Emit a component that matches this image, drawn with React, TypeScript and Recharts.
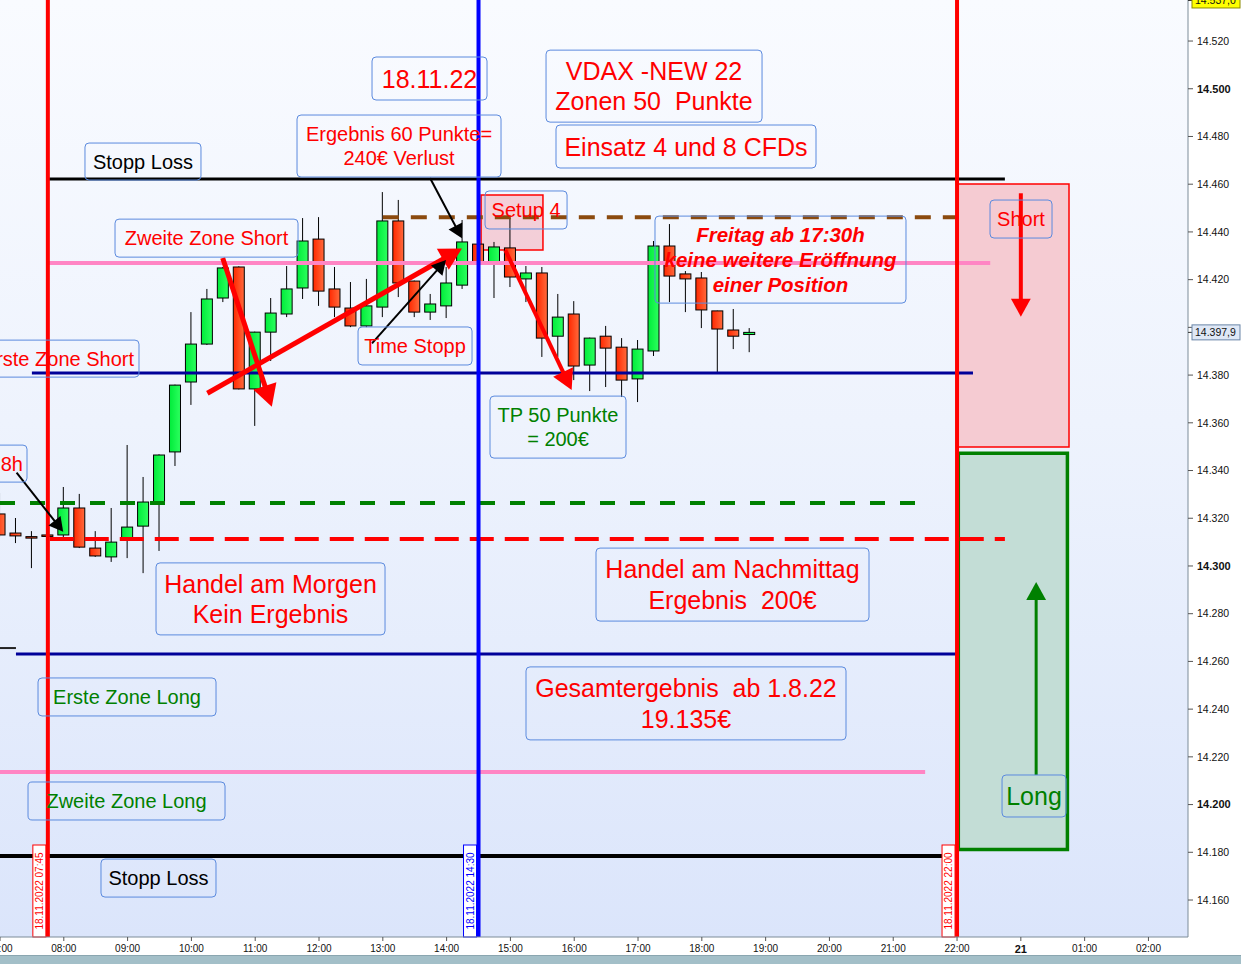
import React from "react";
import {
  ComposedChart,
  Bar,
  XAxis,
  YAxis,
  ReferenceLine,
  ReferenceArea,
  ReferenceDot,
} from "recharts";

// 15 minute candles, 18.11.2022
const times = [
  "07:00", "07:15", "07:30", "07:45", "08:00", "08:15", "08:30", "08:45",
  "09:00", "09:15", "09:30", "09:45", "10:00", "10:15", "10:30", "10:45",
  "11:00", "11:15", "11:30", "11:45", "12:00", "12:15", "12:30", "12:45",
  "13:00", "13:15", "13:30", "13:45", "14:00", "14:15", "14:30", "14:45",
  "15:00", "15:15", "15:30", "15:45", "16:00", "16:15", "16:30", "16:45",
  "17:00", "17:15", "17:30", "17:45", "18:00", "18:15", "18:30", "18:45",
];
const opens = [
  14321.8, 14313.8, 14312.3, 14313.0, 14313.0, 14324.3, 14307.5, 14303.8,
  14311.7, 14316.7, 14326.8, 14347.8, 14377.1, 14393.0, 14412.3, 14425.3,
  14374.2, 14398.0, 14405.6, 14416.5, 14437.0, 14416.1, 14408.1, 14400.6,
  14408.5, 14444.6, 14419.4, 14406.4, 14409.0, 14417.7, 14434.9, 14427.4,
  14433.3, 14420.3, 14422.8, 14396.3, 14405.6, 14384.2, 14396.3, 14391.7,
  14378.4, 14390.1, 14434.1, 14422.4, 14420.7, 14406.9, 14398.9, 14397.0,
];
const highs = [
  14330.6, 14320.1, 14314.6, 14313.4, 14333.1, 14330.2, 14314.6, 14324.3,
  14350.7, 14337.3, 14346.8, 14376.0, 14406.4, 14416.1, 14425.3, 14425.6,
  14398.2, 14412.3, 14425.7, 14445.8, 14446.2, 14425.3, 14419.0, 14420.3,
  14456.7, 14453.4, 14419.6, 14414.0, 14425.3, 14445.0, 14436.5, 14435.8,
  14445.8, 14425.7, 14425.3, 14414.0, 14411.0, 14395.7, 14400.6, 14395.5,
  14394.7, 14436.2, 14443.3, 14423.6, 14423.2, 14407.0, 14407.7, 14399.7,
];
const lows = [
  14312.1, 14309.6, 14299.1, 14312.4, 14312.1, 14307.5, 14303.8, 14301.7,
  14303.3, 14297.0, 14306.3, 14341.9, 14367.5, 14392.6, 14410.6, 14374.0,
  14358.7, 14385.9, 14404.3, 14411.9, 14409.0, 14404.3, 14400.1, 14400.1,
  14404.3, 14412.7, 14404.3, 14403.1, 14403.9, 14416.1, 14426.0, 14412.3,
  14416.9, 14410.6, 14387.6, 14387.6, 14377.9, 14373.3, 14375.0, 14370.8,
  14368.7, 14388.0, 14410.6, 14406.4, 14399.7, 14381.3, 14390.9, 14389.6,
];
const closes = [
  14313.0, 14312.6, 14312.0, 14312.8, 14324.3, 14307.9, 14304.2, 14310.0,
  14316.3, 14326.8, 14346.5, 14375.8, 14393.0, 14411.9, 14424.9, 14374.2,
  14398.0, 14406.0, 14416.1, 14436.2, 14415.2, 14408.5, 14400.6, 14409.0,
  14444.6, 14418.6, 14406.4, 14409.8, 14418.6, 14435.8, 14427.4, 14433.7,
  14421.1, 14422.8, 14395.5, 14404.3, 14383.8, 14395.5, 14391.3, 14377.9,
  14390.9, 14434.1, 14421.5, 14420.3, 14407.3, 14399.3, 14396.3, 14397.9,
];

const xTicks = [7, 8, 9, 10, 11, 12, 13, 14, 15, 16, 17, 18, 19, 20, 21, 22, 23, 24, 25];
const xTickLabels = [
  "07:00", "08:00", "09:00", "10:00", "11:00", "12:00", "13:00", "14:00", "15:00",
  "16:00", "17:00", "18:00", "19:00", "20:00", "21:00", "22:00", "21", "01:00", "02:00",
];
const yTicks = [
  14160, 14180, 14200, 14220, 14240, 14260, 14280, 14300, 14320, 14340,
  14360, 14380, 14400, 14420, 14440, 14460, 14480, 14500, 14520,
];
const lastPrice = 14397.9;
const topPrice = 14537.0;

const RED = "#ff0000";
const GREEN = "#008000";
const NAVY = "#000099";
const PINK = "#ff85c4";
const FONT = '"Liberation Sans", Arial, sans-serif';

const X_MIN = 7;
const X_MAX = 25.62;
const Y_MIN = 14144.5;
const Y_MAX = 14537.2;

// horizontal zone lines
const levels = [
  { from: 7.75, to: 22.75, v: 14462.2, color: "#000", width: 3 },
  { from: 13.0, to: 22.0, v: 14446.2, color: "#8b4a0e", width: 4, dash: "16 12" },
  { from: 7.75, to: 22.52, v: 14427.0, color: PINK, width: 4 },
  { from: 7.5, to: 22.25, v: 14380.9, color: NAVY, width: 3 },
  { from: 7.0, to: 21.5, v: 14326.4, color: GREEN, width: 4, dash: "15 15" },
  { from: 7.78, to: 22.75, v: 14311.3, color: RED, width: 4, dash: "24 11" },
  { from: 7.0, to: 7.25, v: 14265.6, color: "#222", width: 2 },
  { from: 7.25, to: 22.0, v: 14263.1, color: NAVY, width: 3 },
  { from: 7.0, to: 21.5, v: 14213.6, color: PINK, width: 4 },
  { from: 7.0, to: 22.0, v: 14178.4, color: "#000", width: 4 },
];

const markers = [
  { t: 7.75, color: RED, label: "18.11.2022 07:45" },
  { t: 14.5, color: "#0000ff", label: "18.11.2022 14:30" },
  { t: 22.0, color: RED, label: "18.11.2022 22:00" },
];

const zones = [
  { x1: 22.0, x2: 23.755, y1: 14349.9, y2: 14460.1, fill: "#f5cbd2", stroke: RED, sw: 1.5, op: 1 },
  { x1: 22.02, x2: 23.73, y1: 14181.2, y2: 14347.2, fill: "#c3ddd6", stroke: GREEN, sw: 3.5, op: 1 },
  { x1: 14.54, x2: 15.51, y1: 14432.4, y2: 14455.5, fill: "#f4b4be", stroke: RED, sw: 1.5, op: 0.6 },
];

const arrows = [
  { from: [10.49, 14429.1], to: [11.26, 14366.7], color: RED, width: 5, head: 22 },
  { from: [10.25, 14372.4], to: [14.24, 14433.1], color: RED, width: 5, head: 22 },
  { from: [13.74, 14462.6], to: [14.24, 14437.3], color: "#000", width: 2, head: 14 },
  { from: [12.83, 14393.3], to: [13.99, 14428.2], color: "#000", width: 2, head: 14 },
  { from: [14.92, 14432.4], to: [15.96, 14373.7], color: RED, width: 4, head: 20 },
  { from: [7.26, 14339.1], to: [7.99, 14314.3], color: "#000", width: 2, head: 14 },
  { from: [23.0, 14456.2], to: [23.0, 14404.5], color: RED, width: 4, head: 18 },
  { from: [23.24, 14212.4], to: [23.24, 14293.3], color: GREEN, width: 3, head: 18 },
];

const notes = [
  { t: 13.732, v: 14504.3, w: 115, h: 43, size: 25, color: RED, lines: ["18.11.22"] },
  { t: 17.251, v: 14501.1, w: 216, h: 72, size: 25, color: RED, lines: ["VDAX -NEW 22", "Zonen 50  Punkte"] },
  { t: 17.752, v: 14475.8, w: 260, h: 43, size: 25, color: RED, lines: ["Einsatz 4 und 8 CFDs"] },
  { t: 13.254, v: 14476.0, w: 204, h: 62, size: 20, color: RED, lines: ["Ergebnis 60 Punkte=", "240€ Verlust"] },
  { t: 9.241, v: 14469.5, w: 116, h: 37, size: 20, color: "#000", lines: ["Stopp Loss"] },
  { t: 10.237, v: 14437.4, w: 183, h: 38, size: 20, color: RED, lines: ["Zweite Zone Short"] },
  { t: 15.245, v: 14449.2, w: 82, h: 38, size: 20, color: RED, lines: ["Setup 4"] },
  {
    t: 19.233, v: 14428.4, w: 251, h: 87, size: 20.5, color: RED, bold: true, italic: true,
    lines: ["Freitag ab 17:30h", "keine weitere Eröffnung", "einer Position"],
  },
  { t: 23.003, v: 14445.4, w: 62, h: 38, size: 20, color: RED, lines: ["Short"] },
  { t: 13.505, v: 14392.2, w: 114, h: 38, size: 20, color: RED, lines: ["Time Stopp"] },
  { t: 7.901, v: 14386.9, w: 163, h: 37, size: 20, color: RED, lines: ["Erste Zone Short"], end: 5 },
  { t: 15.746, v: 14358.2, w: 136, h: 62, size: 20, color: GREEN, lines: ["TP 50 Punkte", "= 200€"] },
  { t: 6.953, v: 14342.9, w: 60, h: 37, size: 20, color: RED, lines: ["8h"], end: 4 },
  { t: 11.24, v: 14286.2, w: 229, h: 72, size: 25, color: RED, lines: ["Handel am Morgen", "Kein Ergebnis"] },
  { t: 18.481, v: 14292.2, w: 273, h: 73, size: 25, color: RED, lines: ["Handel am Nachmittag", "Ergebnis  200€"] },
  { t: 8.991, v: 14245.1, w: 178, h: 38, size: 20, color: GREEN, lines: ["Erste Zone Long"] },
  { t: 17.752, v: 14242.4, w: 320, h: 73, size: 25, color: RED, lines: ["Gesamtergebnis  ab 1.8.22", "19.135€"] },
  { t: 8.983, v: 14201.5, w: 197, h: 38, size: 20, color: GREEN, lines: ["Zweite Zone Long"] },
  { t: 9.484, v: 14169.2, w: 115, h: 38, size: 20, color: "#000", lines: ["Stopp Loss"] },
  { t: 23.207, v: 14203.6, w: 64, h: 42, size: 25, color: GREEN, lines: ["Long"] },
];

const candles = times.map((s, i) => {
  const [hh, mm] = s.split(":").map(Number);
  return { t: hh + mm / 60, o: opens[i], h: highs[i], l: lows[i], c: closes[i] };
});

const fmtTick = (v: number) => (v / 1000).toFixed(3);

const Candle = (props: any) => {
  const { x, y, width, height, payload } = props;
  if (x == null || y == null) return null;
  const top = Math.min(y, y + height);
  const span = Math.abs(height);
  const { o, c, h, l } = payload;
  const k = span / (h - l);
  const yOf = (v: number) => top + (h - v) * k;
  const bTop = yOf(Math.max(o, c));
  const bBot = yOf(Math.min(o, c));
  const cx = x + width / 2;
  const up = c >= o;
  return (
    <g>
      <line x1={cx} x2={cx} y1={top} y2={top + span} stroke="#000" strokeWidth={1} />
      <rect
        x={x}
        y={bTop}
        width={width}
        height={Math.max(bBot - bTop, 1.5)}
        fill={up ? "url(#upGrad)" : "url(#downGrad)"}
        stroke="#000"
        strokeWidth={1}
      />
    </g>
  );
};

const arrowShape = (color: string, w: number, head: number) => (p: any) => {
  const { x1, y1, x2, y2 } = p;
  const dx = x2 - x1;
  const dy = y2 - y1;
  const len = Math.hypot(dx, dy) || 1;
  const ux = dx / len;
  const uy = dy / len;
  const bx = x2 - ux * head;
  const by = y2 - uy * head;
  const px = -uy * head * 0.55;
  const py = ux * head * 0.55;
  return (
    <g>
      <line x1={x1} y1={y1} x2={bx + ux * 2} y2={by + uy * 2} stroke={color} strokeWidth={w} />
      <polygon points={`${x2},${y2} ${bx + px},${by + py} ${bx - px},${by - py}`} fill={color} />
    </g>
  );
};

const markerShape = (color: string, label: string) => (p: any) => {
  const { x1, y1, y2 } = p;
  const bottom = Math.max(y1, y2);
  const topY = Math.min(y1, y2);
  const bw = 13;
  const bh = 92;
  const bx = x1 - 2 - bw;
  const by = bottom - bh;
  const tx = bx + bw / 2;
  const ty = by + bh / 2;
  return (
    <g>
      <line x1={x1} x2={x1} y1={topY} y2={bottom} stroke={color} strokeWidth={4} />
      <rect x={bx} y={by} width={bw} height={bh} fill="#ffffff" stroke={color} strokeWidth={1} />
      <text
        x={tx}
        y={ty}
        transform={`rotate(-90 ${tx} ${ty})`}
        textAnchor="middle"
        dy={3.5}
        fontSize={10}
        fill={color}
        fontFamily={FONT}
      >
        {label}
      </text>
    </g>
  );
};

const noteShape = (n: any) => (p: any) => {
  const { cx, cy } = p;
  const lh = n.size * 1.21;
  const firstY = cy - ((n.lines.length - 1) * lh) / 2 + n.size * 0.36;
  const anchor = n.end != null ? "end" : "middle";
  const tx = n.end != null ? cx + n.w / 2 - n.end : cx;
  return (
    <g>
      <rect
        x={cx - n.w / 2}
        y={cy - n.h / 2}
        width={n.w}
        height={n.h}
        rx={4}
        fill="none"
        stroke="#5b8ade"
        strokeWidth={1}
      />
      {n.lines.map((s: string, i: number) => (
        <text
          key={i}
          x={tx}
          y={firstY + i * lh}
          textAnchor={anchor}
          fontSize={n.size}
          fill={n.color}
          fontFamily={FONT}
          fontWeight={n.bold ? "bold" : "normal"}
          fontStyle={n.italic ? "italic" : "normal"}
          style={{ whiteSpace: "pre" }}
        >
          {s}
        </text>
      ))}
    </g>
  );
};

const priceTag = (text: string, fill: string, stroke: string) => (p: any) => {
  const { cx, cy } = p;
  return (
    <g>
      <line x1={cx} x2={cx + 5} y1={cy} y2={cy} stroke="#333" />
      <rect x={cx + 4} y={cy - 7.5} width={48} height={15} fill={fill} stroke={stroke} strokeWidth={1} />
      <text x={cx + 7} y={cy + 4} fontSize={10.5} fill="#111" fontFamily={FONT}>
        {text}
      </text>
    </g>
  );
};

const YTick = (props: any) => {
  const { x, y, payload } = props;
  const v = payload.value;
  if (v === 14400) return null;
  const major = v % 100 === 0;
  return (
    <text
      x={x}
      y={y}
      dy={3.8}
      textAnchor="start"
      fontSize={major ? 11 : 10.5}
      fontWeight={major ? "bold" : "normal"}
      fill="#111"
      fontFamily={FONT}
    >
      {fmtTick(v)}
    </text>
  );
};

const XTick = (props: any) => {
  const { x, y, payload } = props;
  const i = xTicks.indexOf(payload.value);
  const label = xTickLabels[i] ?? "";
  const bold = label.length <= 2;
  return (
    <text
      x={x}
      y={y}
      dy={bold ? 10 : 9}
      textAnchor="middle"
      fontSize={bold ? 11 : 10}
      fontWeight={bold ? "bold" : "normal"}
      fill="#111"
      fontFamily={FONT}
    >
      {label}
    </text>
  );
};

export default function App() {
  return (
    <div
      style={{
        position: "absolute",
        left: 0,
        top: 0,
        width: 1241,
        height: 964,
        background: "#ffffff",
        overflow: "hidden",
        fontFamily: FONT,
      }}
    >
      <div
        style={{
          position: "absolute",
          left: 0,
          top: 0,
          width: 1188,
          height: 937,
          background: "linear-gradient(to bottom, #f9fbff 0%, #eef3fd 45%, #dbe5fb 100%)",
        }}
      />
      <div
        style={{
          position: "absolute",
          left: 0,
          top: 955,
          width: 1241,
          height: 9,
          background: "#a3bfc8",
          borderTop: "1px solid #8aa6b0",
        }}
      />
      <div style={{ position: "absolute", left: 0, top: 0 }}>
        <ComposedChart
          width={1241}
          height={955}
          data={candles}
          margin={{ top: 0, right: 0, bottom: 0, left: 0 }}
        >
          <defs>
            <linearGradient id="downGrad" x1="0" y1="0" x2="1" y2="0">
              <stop offset="0%" stopColor="#ff2800" />
              <stop offset="100%" stopColor="#ff6a3c" />
            </linearGradient>
            <linearGradient id="upGrad" x1="0" y1="0" x2="1" y2="0">
              <stop offset="0%" stopColor="#00ec3a" />
              <stop offset="100%" stopColor="#2cff5e" />
            </linearGradient>
          </defs>
          <XAxis
            type="number"
            dataKey="t"
            domain={[X_MIN, X_MAX]}
            allowDataOverflow
            ticks={xTicks}
            tick={<XTick />}
            tickSize={4}
            tickLine={{ stroke: "#555" }}
            axisLine={{ stroke: "#7d8c99" }}
            height={18}
            interval={0}
          />
          <YAxis
            orientation="right"
            type="number"
            domain={[Y_MIN, Y_MAX]}
            allowDataOverflow
            ticks={yTicks}
            tick={<YTick />}
            tickSize={5}
            tickMargin={4}
            tickLine={{ stroke: "#555" }}
            axisLine={{ stroke: "#7d8c99" }}
            width={53}
            interval={0}
          />

          {zones.map((z, i) => (
            <ReferenceArea
              key={`z${i}`}
              x1={z.x1}
              x2={z.x2}
              y1={z.y1}
              y2={z.y2}
              fill={z.fill}
              fillOpacity={z.op}
              stroke={z.stroke}
              strokeWidth={z.sw}
              ifOverflow="visible"
            />
          ))}

          {notes.map((n, i) => (
            <ReferenceDot
              key={`n${i}`}
              x={n.t}
              y={n.v}
              r={1}
              ifOverflow="visible"
              shape={noteShape(n)}
            />
          ))}

          <Bar
            dataKey={(d: any) => [d.l, d.h]}
            barSize={11}
            shape={<Candle />}
            isAnimationActive={false}
          />

          {levels.map((lv, i) => (
            <ReferenceLine
              key={`l${i}`}
              segment={[
                { x: lv.from, y: lv.v },
                { x: lv.to, y: lv.v },
              ]}
              stroke={lv.color}
              strokeWidth={lv.width}
              strokeDasharray={lv.dash}
              ifOverflow="visible"
            />
          ))}

          {markers.map((m, i) => (
            <ReferenceLine
              key={`m${i}`}
              x={m.t}
              stroke={m.color}
              strokeWidth={4}
              shape={markerShape(m.color, m.label)}
            />
          ))}

          {arrows.map((a, i) => (
            <ReferenceLine
              key={`a${i}`}
              segment={[
                { x: a.from[0], y: a.from[1] },
                { x: a.to[0], y: a.to[1] },
              ]}
              stroke={a.color}
              ifOverflow="visible"
              shape={arrowShape(a.color, a.width, a.head)}
            />
          ))}

          <ReferenceDot
            x={X_MAX}
            y={lastPrice}
            r={1}
            ifOverflow="visible"
            shape={priceTag("14.397,9", "#dfe8f6", "#6a86a8")}
          />
          <ReferenceDot
            x={X_MAX}
            y={topPrice}
            r={1}
            ifOverflow="visible"
            shape={priceTag("14.537,0", "#ffff00", "#8a8a00")}
          />
        </ComposedChart>
      </div>
    </div>
  );
}
